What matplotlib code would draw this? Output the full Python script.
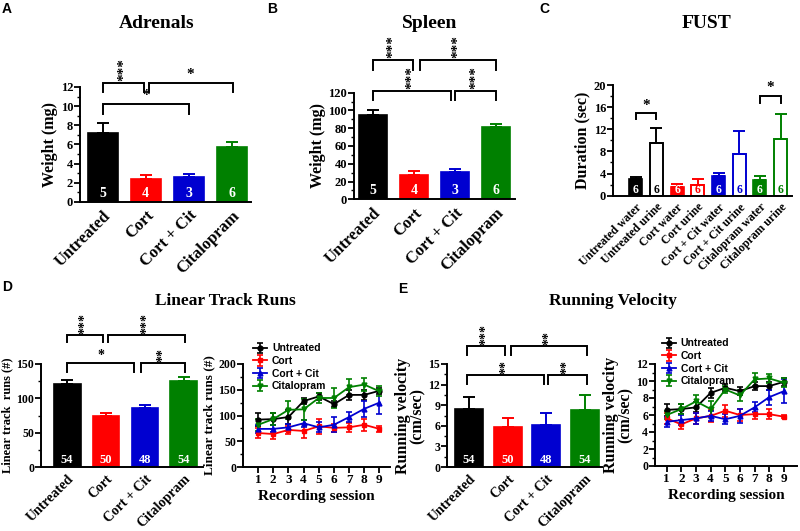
import numpy as np
import matplotlib
matplotlib.use('Agg')
import matplotlib.pyplot as plt
from matplotlib.ticker import AutoMinorLocator, MultipleLocator

# groups / colours
groups = ['Untreated', 'Cort', 'Cort + Cit', 'Citalopram']
fust_labels = ['Untreated water', 'Untreated urine', 'Cort water', 'Cort urine',
               'Cort + Cit water', 'Cort + Cit urine', 'Citalopram water', 'Citalopram urine']

# A - adrenals
adrenal_mean = [7.23, 2.43, 2.64, 5.74]
adrenal_err = [1.0, 0.42, 0.28, 0.52]
adrenal_n = [5, 4, 3, 6]

# B - spleen
spleen_mean = [95, 27.5, 31, 81]
spleen_err = [6, 4.5, 3.5, 3.5]
spleen_n = [5, 4, 3, 6]

# C - FUST
fust_mean = [3.0, 9.6, 1.6, 1.9, 3.55, 7.6, 2.8, 10.2]
fust_err = [0.45, 2.6, 0.5, 1.2, 0.6, 4.1, 0.8, 4.6]
fust_n = [6, 6, 6, 6, 6, 6, 6, 6]

# D - linear track runs
runs_mean = [121.5, 74, 86.5, 125]
runs_err = [5.5, 4, 4.5, 6]
runs_n = [54, 50, 48, 54]

sessions = [1, 2, 3, 4, 5, 6, 7, 8, 9]
runs_untr = [92, 93, 97, 128, 137, 122, 140, 140, 148]
runs_untr_err = [13, 12, 13, 6, 6, 6, 10, 10, 6]
runs_cort = [66, 64, 72, 70, 79, 76, 77, 82, 74]
runs_cort_err = [10, 9, 8, 13, 15, 8, 9, 12, 6]
runs_cc = [74, 74, 77, 85, 77, 82, 97, 113, 125]
runs_cc_err = [8, 7, 7, 7, 10, 15, 10, 15, 23]
runs_cit = [82, 93, 111, 112, 134, 134, 155, 160, 147]
runs_cit_err = [12, 12, 17, 20, 10, 20, 15, 12, 10]

# E - running velocity
vel_mean = [8.4, 5.8, 6.1, 8.3]
vel_err = [1.8, 1.4, 1.7, 2.2]
vel_n = [54, 50, 48, 54]

vel_untr = [6.6, 6.7, 6.9, 8.6, 9.2, 8.8, 9.4, 9.4, 9.9]
vel_untr_err = [0.7, 0.6, 0.6, 0.6, 0.4, 0.5, 0.5, 0.5, 0.5]
vel_cort = [5.6, 4.9, 5.6, 5.9, 6.5, 6.0, 6.1, 6.1, 5.8]
vel_cort_err = [0.6, 0.5, 0.6, 0.7, 0.7, 0.7, 0.6, 0.6, 0.2]
vel_cc = [5.2, 5.4, 5.6, 5.9, 5.5, 5.9, 6.9, 8.1, 8.8]
vel_cc_err = [0.6, 0.6, 0.6, 0.6, 0.6, 0.8, 0.6, 0.9, 1.4]
vel_cit = [6.0, 6.7, 7.6, 6.7, 9.0, 8.3, 10.2, 10.3, 9.8]
vel_cit_err = [0.5, 0.6, 0.8, 0.9, 0.4, 0.6, 0.8, 0.5, 0.5]

# significance brackets: (x start, x end, top, leg bottom, stars)
adrenal_sig = [(0, 0.97, 12.45, 11.5, '***'), (1.07, 3.02, 12.45, 11.5, '*'),
               (0, 2, 10.25, 9.2, '*')]
spleen_sig = [(0, 0.98, 157, 146, '***'), (1.15, 3, 157, 146, '***'),
              (0, 1.9, 122, 112, '***'), (2.0, 3, 122, 112, '***')]
fust_sig = [(0, 1, 14.9, 13.8, '*'), (6, 7, 18.0, 16.8, '*')]
runs_sig = [(0, 0.93, 192, 182, '***'), (1.05, 3.03, 192, 182, '***'),
            (0, 1.72, 151, 138, '*'), (1.9, 3.03, 151, 138, '**')]
vel_sig = [(-0.05, 0.93, 17.6, 16.3, '***'), (1.09, 3.05, 17.6, 16.3, '**'),
           (-0.05, 1.94, 13.4, 12.1, '**'), (2.04, 3.05, 13.4, 12.1, '**')]

BLACK = '#000000'
RED = '#ff0000'
BLUE = '#0000d0'
GREEN = '#008000'
COLS = [BLACK, RED, BLUE, GREEN]
SERIF = 'Liberation Serif'
SANS = 'Liberation Sans'

W, H = 800, 531


def ax_at(fig, x0, x1, y_top, y_bot):
    return fig.add_axes([x0 / W, 1 - y_bot / H, (x1 - x0) / W, (y_bot - y_top) / H])


def style(ax, tick_size):
    for s in ['top', 'right']:
        ax.spines[s].set_visible(False)
    for s in ['left', 'bottom']:
        ax.spines[s].set_linewidth(1.4)
    ax.tick_params(axis='y', width=1.3, length=4, labelsize=tick_size, pad=1)
    ax.tick_params(axis='y', which='minor', width=1.0, length=2)
    for lab in ax.get_yticklabels():
        lab.set_fontfamily(SERIF)
        lab.set_fontweight('bold')


def brackets(ax, sig, star_size, gap):
    for x0, x1, top, bot, stars in sig:
        ax.plot([x0, x0, x1, x1], [bot, top, top, bot], color='k', lw=1.4,
                clip_on=False, solid_joinstyle='miter')
        rot = 90 if len(stars) > 1 else 0
        ax.text((x0 + x1) / 2, top + gap, stars, rotation=rot, ha='center', va='bottom',
                fontsize=star_size, fontfamily=SERIF, fontweight='bold', clip_on=False)


def bar_panel(ax, labels, means, errs, ns, cols, filled, xlim, ylim, step, width,
              ylabel, ysize, xsize, tsize, nsize, ny):
    x = np.arange(len(means))
    for i in range(len(means)):
        if filled[i]:
            ax.bar(x[i], means[i], width=width, color=cols[i], edgecolor=cols[i], lw=1.2)
        else:
            ax.bar(x[i], means[i], width=width, color='white', edgecolor=cols[i], lw=1.4)
        ax.errorbar(x[i], means[i], yerr=[[0], [errs[i]]], color=cols[i], capsize=4,
                    elinewidth=1.4, capthick=1.4, fmt='none')
        ax.text(x[i], ny, str(ns[i]), transform=ax.get_xaxis_transform(), ha='center',
                va='bottom', color='white' if filled[i] else cols[i], fontsize=nsize,
                fontfamily=SERIF, fontweight='bold')
    ax.set_xlim(xlim)
    ax.set_ylim(ylim)
    ax.yaxis.set_major_locator(MultipleLocator(step))
    ax.yaxis.set_minor_locator(AutoMinorLocator(2))
    ax.set_xticks(x)
    ax.set_xticklabels(labels, rotation=45, ha='right', rotation_mode='anchor',
                       fontsize=xsize, fontfamily=SERIF, fontweight='bold')
    ax.tick_params(axis='x', length=0, pad=4)
    ax.set_ylabel(ylabel, fontsize=ysize, fontfamily=SERIF, fontweight='bold', labelpad=2,
                  linespacing=0.85)
    style(ax, tsize)


def line_panel(ax, series, errs, ylim, step, ylabel, ysize, xlim, leg_xy):
    marks = ['o', 's', '^', 'v']
    for i in range(4):
        ax.errorbar(sessions, series[i], yerr=errs[i], color=COLS[i], marker=marks[i],
                    ms=3.5, lw=1.3, capsize=2.5, elinewidth=1.2, capthick=1.2,
                    label=groups[i], clip_on=False)
    ax.set_xlim(xlim)
    ax.set_ylim(ylim)
    ax.yaxis.set_major_locator(MultipleLocator(step))
    ax.yaxis.set_minor_locator(AutoMinorLocator(2))
    ax.set_xticks(sessions)
    ax.tick_params(axis='x', width=1.3, length=4, labelsize=9.5, pad=1)
    for lab in ax.get_xticklabels():
        lab.set_fontfamily(SERIF)
        lab.set_fontweight('bold')
    ax.set_xlabel('Recording session', fontsize=11, fontfamily=SERIF, fontweight='bold',
                  labelpad=3)
    ax.set_ylabel(ylabel, fontsize=ysize, fontfamily=SERIF, fontweight='bold', labelpad=2,
                  linespacing=0.85)
    style(ax, 8.5)
    ax.legend(loc='upper left', bbox_to_anchor=leg_xy, frameon=False,
              prop={'family': SANS, 'weight': 'bold', 'size': 7.5},
              handlelength=1.3, handletextpad=0.5, labelspacing=0.25,
              borderpad=0, borderaxespad=0)


def main():
    fig = plt.figure(figsize=(8, 5.31), dpi=100)

    # A
    ax = ax_at(fig, 80, 251, 87, 202)
    bar_panel(ax, groups, adrenal_mean, adrenal_err, adrenal_n, COLS, [1] * 4,
              (-0.53, 3.45), (0, 12), 2, 0.7, 'Weight (mg)', 11.5, 12, 9, 10, 0.02)
    brackets(ax, adrenal_sig, 11, 0.2)

    # B
    ax = ax_at(fig, 354, 515, 92.7, 199.3)
    bar_panel(ax, groups, spleen_mean, spleen_err, spleen_n, COLS, [1] * 4,
              (-0.46, 3.46), (0, 120), 20, 0.69, 'Weight (mg)', 11.5, 12, 9, 10, 0.02)
    brackets(ax, spleen_sig, 11, 2)

    # C
    fcols = [BLACK, BLACK, RED, RED, BLUE, BLUE, GREEN, GREEN]
    ax = ax_at(fig, 613, 792, 85, 195.7)
    bar_panel(ax, fust_labels, fust_mean, fust_err, fust_n, fcols, [1, 0] * 4,
              (-1.1, 7.55), (0, 20), 4, 0.63, 'Duration (sec)', 11.5, 8.5, 9, 8.5, 0.0)
    brackets(ax, fust_sig, 11, 0.3)

    # D
    ax = ax_at(fig, 41, 203, 364, 467)
    bar_panel(ax, groups, runs_mean, runs_err, runs_n, COLS, [1] * 4,
              (-0.67, 3.49), (0, 150), 50, 0.69, 'Linear track  runs (#)', 9, 10, 8.5,
              9, 0.01)
    brackets(ax, runs_sig, 10, 2)

    ax = ax_at(fig, 243, 390, 364, 467)
    line_panel(ax, [runs_untr, runs_cort, runs_cc, runs_cit],
               [runs_untr_err, runs_cort_err, runs_cc_err, runs_cit_err],
               (0, 200), 50, 'Linear track runs (#)', 9.5, (0, 9.7), (0.07, 1.2))

    # E
    ax = ax_at(fig, 447, 602, 364, 467)
    bar_panel(ax, groups, vel_mean, vel_err, vel_n, COLS, [1] * 4,
              (-0.57, 3.44), (0, 15), 3, 0.72, 'Running velocity\n(cm/sec)', 11.5, 10,
              8.5, 9, 0.01)
    brackets(ax, vel_sig, 10, 0.2)

    ax = ax_at(fig, 655, 797, 364, 466)
    line_panel(ax, [vel_untr, vel_cort, vel_cc, vel_cit],
               [vel_untr_err, vel_cort_err, vel_cc_err, vel_cit_err],
               (0, 12), 2, 'Running velocity\n(cm/sec)', 11.5, (0.2, 9.9), (0.05, 1.25))

    # titles and panel letters
    titles = [('Adrenals', 157, 23, 14), ('Spleen', 430, 23, 14), ('FUST', 707, 23, 14),
              ('Linear Track Runs', 225, 301, 12.5), ('Running Velocity', 613, 301, 12.5)]
    for t, px, py, fs in titles:
        fig.text(px / W, 1 - py / H, t, ha='center', va='center', fontsize=fs,
                 fontfamily=SERIF, fontweight='bold')
    letters = [('A', 2, 2), ('B', 267, 2), ('C', 539, 2), ('D', 2, 280), ('E', 398, 282)]
    for t, px, py in letters:
        fig.text(px / W, 1 - py / H, t, ha='left', va='top', fontsize=10,
                 fontfamily=SANS, fontweight='bold')

    fig.savefig('out.png', dpi=100)


if __name__ == '__main__':
    main()
